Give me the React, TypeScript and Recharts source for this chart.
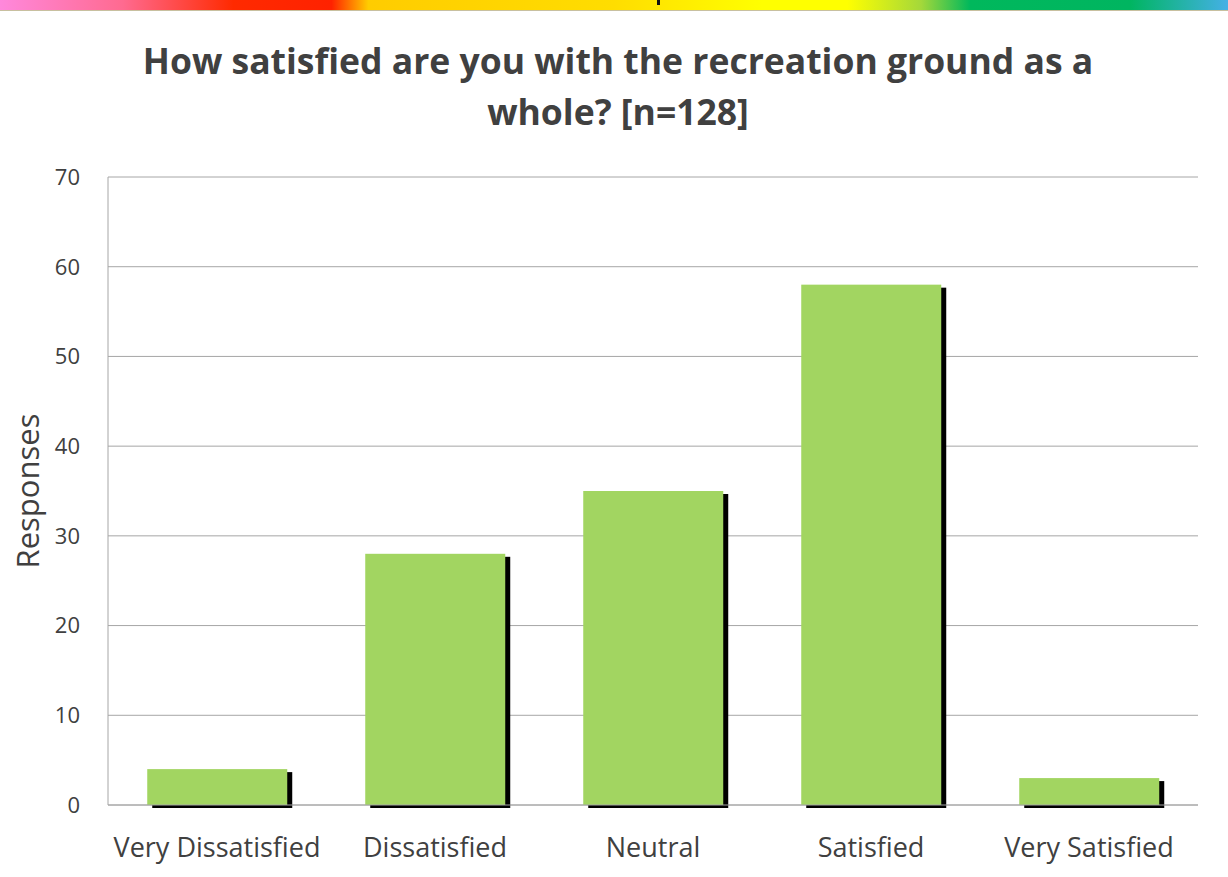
import { BarChart, Bar, XAxis, YAxis, CartesianGrid } from "recharts";

const categories = ["Very Dissatisfied", "Dissatisfied", "Neutral", "Satisfied", "Very Satisfied"];
const responses = [4, 28, 35, 58, 3];
const yTicks = [0, 10, 20, 30, 40, 50, 60, 70];

const chartData = categories.map((name, i) => ({ name, responses: responses[i] }));

const FONT = "'Open Sans', 'DejaVu Sans', sans-serif";
const TEXT = "#404040";

const ShadowBar = (props: any) => {
    const { x, y, width, height } = props;
    if (!height) return null;
    return (
        <g>
            <rect x={x + 5} y={y + 3} width={width} height={height} fill="#000000" />
            <rect x={x} y={y} width={width} height={height} fill="#a2d561" />
        </g>
    );
};

const App = () => {
    return (
        <div style={{ position: "absolute", left: 0, top: 0, width: 1228, height: 877, background: "#fff", fontFamily: FONT }}>
            <div
                style={{
                    position: "absolute",
                    left: 0,
                    top: 0,
                    width: 1228,
                    height: 10,
                    background:
                        "linear-gradient(to right, #ff88dc 0%, #ff6a90 10%, #ff2a00 19%, #ff2200 27%, #ffcc00 30%, #ffdd00 50%, #ffff00 62%, #ffff00 69%, #a4d83a 75%, #00b85c 79%, #00b560 92%, #44b0e6 100%)",
                    borderBottom: "1px solid #c8c0a0",
                }}
            />
            <div style={{ position: "absolute", left: 657, top: 0, width: 3, height: 5, background: "#111" }} />
            <div
                style={{
                    position: "absolute",
                    left: 0,
                    top: 35,
                    width: 1236,
                    textAlign: "center",
                    fontSize: 35.5,
                    fontWeight: 700,
                    lineHeight: "51px",
                    color: TEXT,
                }}
            >
                How satisfied are you with the recreation ground as a
                <br />
                whole? [n=128]
            </div>
            <BarChart
                width={1228}
                height={877}
                data={chartData}
                margin={{ top: 177, right: 30, left: 0, bottom: 0 }}
                barCategoryGap="18%"
            >
                <CartesianGrid vertical={false} stroke="#a6a6a6" />
                <XAxis
                    dataKey="name"
                    height={72}
                    tickLine={false}
                    tickSize={0}
                    tickMargin={33}
                    axisLine={{ stroke: "#a6a6a6" }}
                    tick={{ fill: TEXT, fontSize: 27, fontFamily: FONT }}
                    interval={0}
                />
                <YAxis
                    width={108}
                    domain={[0, 70]}
                    ticks={yTicks}
                    tickLine={false}
                    tickSize={0}
                    tickMargin={28}
                    axisLine={{ stroke: "#a6a6a6" }}
                    tick={{ fill: TEXT, fontSize: 22, fontFamily: FONT }}
                    label={{
                        value: "Responses",
                        angle: -90,
                        position: "center",
                        dx: -26,
                        fill: TEXT,
                        fontSize: 31,
                        fontFamily: FONT,
                    }}
                />
                <Bar dataKey="responses" shape={ShadowBar} isAnimationActive={false} />
            </BarChart>
        </div>
    );
};

export default App;
